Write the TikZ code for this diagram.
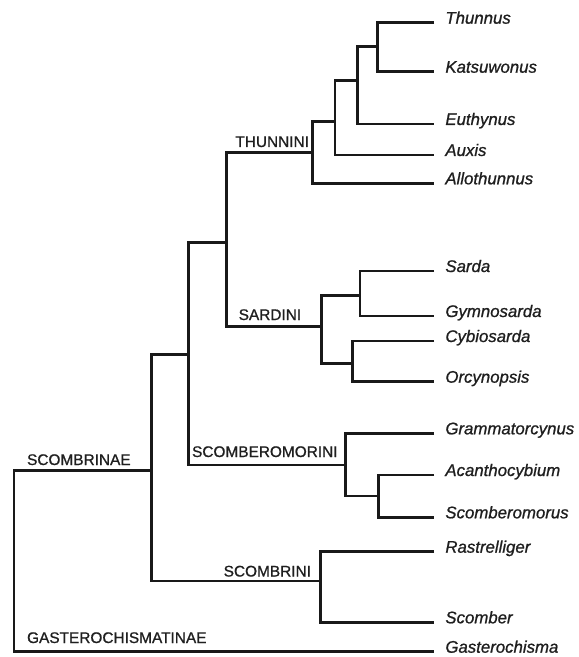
\documentclass[tikz,border=0pt]{standalone}
\usepackage{fontspec}
\setmainfont{Liberation Sans}[FakeBold=0.9]
\usetikzlibrary{positioning}

\begin{document}
\begin{tikzpicture}[
  x=0.5pt, y=-0.5pt,
  every node/.style={inner sep=0pt, text=black!88},
  taxon/.style={anchor=base west, font=\fontsize{8.4}{10}\selectfont\itshape},
  group/.style={anchor=base west, font=\fontsize{7.7}{9}\selectfont},
  br/.style={line width=1.3pt, draw=black!90}
]
\useasboundingbox[fill=white] (0,0) rectangle (578,657);

% genera: branch tip + name
\foreach \g/\y in {Thunnus/22.7, Katsuwonus/71.7, Euthynus/124, Auxis/155,
    Allothunnus/183.3, Sarda/271, Gymnosarda/316, Cybiosarda/341,
    Orcynopsis/381.7, Grammatorcynus/433.3, Acanthocybium/475,
    Scomberomorus/517.3, Rastrelliger/551.7, Scomber/622.3,
    Gasterochisma/651.7} {
  \coordinate (\g) at (434,\y);
  \node[taxon] (\g-name) at (445,\y+1) {\g};
}

% branching points
\coordinate (root)    at (14,560);
\coordinate (scombrinae) at (151.7,470.7);
\coordinate (tsm)     at (188.3,354.3);
\coordinate (ts)      at (226.7,242.7);
\coordinate (thunnini) at (312.3,152.7);
\coordinate (th1)     at (335,121.7);
\coordinate (th2)     at (357.7,80.7);
\coordinate (th3)     at (377.7,46.7);
\coordinate (sardini) at (321.7,326.7);
\coordinate (sa1)     at (360,295.7);
\coordinate (sa2)     at (352.7,363.3);
\coordinate (scomberomorini) at (345.7,465);
\coordinate (sc1)     at (378.3,496);
\coordinate (scombrini) at (320.7,581);

% tree
\draw[br] (Thunnus) -| (th3) |- (Katsuwonus);
\draw[br] (th3) -| (th2) |- (Euthynus);
\draw[br] (th2) -| (th1) |- (Auxis);
\draw[br] (th1) -| (thunnini) |- (Allothunnus);
\draw[br] (Sarda) -| (sa1) |- (Gymnosarda);
\draw[br] (Cybiosarda) -| (sa2) |- (Orcynopsis);
\draw[br] (sa1) -| (sardini) |- (sa2);
\draw[br] (thunnini) -| (ts) |- (sardini);
\draw[br] (Acanthocybium) -| (sc1) |- (Scomberomorus);
\draw[br] (Grammatorcynus) -| (scomberomorini) |- (sc1);
\draw[br] (ts) -| (tsm) |- (scomberomorini);
\draw[br] (Rastrelliger) -| (scombrini) |- (Scomber);
\draw[br] (tsm) -| (scombrinae) |- (scombrini);
\draw[br] (scombrinae) -| (root) |- (Gasterochisma);

% group names
\node[group] (thunnini-name) at (235,147) {THUNNINI};
\node[group] (sardini-name) at (238.3,320) {SARDINI};
\node[group] (scomberomorini-name) at (191.7,457) {SCOMBEROMORINI};
\node[group] (scombrinae-name) at (26.7,465) {SCOMBRINAE};
\node[group] (scombrini-name) at (223.3,576.5) {SCOMBRINI};
\node[group] (gasterochismatinae-name) at (26.7,643) {GASTEROCHISMATINAE};
\end{tikzpicture}
\end{document}
